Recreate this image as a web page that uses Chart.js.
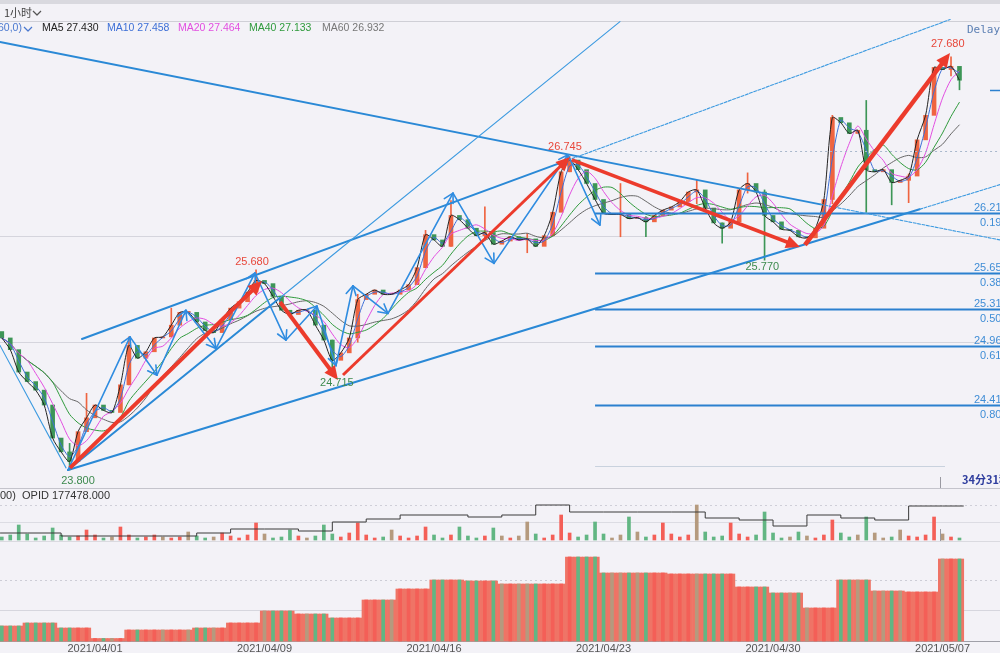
<!DOCTYPE html>
<html><head><meta charset="utf-8">
<script src="https://cdn.jsdelivr.net/npm/chart.js@4"></script>
<style>html,body{margin:0;padding:0;background:#f3f2f7;overflow:hidden}#wrap{width:1000px;height:653px;position:relative}canvas{display:block}</style>
</head><body><div id="wrap"><canvas id="c" width="1000" height="653"></canvas></div>
<script>
// ---------------- DATA ----------------
const dateTickIdx = [11, 31, 51, 71, 91, 111];
const dateLabels = ['2021/04/01', '2021/04/09', '2021/04/16', '2021/04/23', '2021/04/30', '2021/05/07'];

// hourly-ish closes (one every quarter trading day), index 0..113
const firstOpen = 25.10;
const closes = [
  25.04, 24.93, 24.72, 24.63, 24.55, 24.41, 24.10, 23.97, 23.88, 24.16,
  24.29, 24.41, 24.36, 24.34, 24.60, 24.97, 24.85, 24.91, 25.04, 25.05,
  25.16, 25.28, 25.28, 25.19, 25.11, 25.09, 25.21, 25.32, 25.38, 25.47,
  25.58, 25.55, 25.43, 25.30, 25.26, 25.30, 25.30, 25.16, 25.02, 24.83,
  24.90, 25.04, 25.40, 25.45, 25.49, 25.45, 25.45, 25.49, 25.54, 25.70,
  26.01, 25.96, 25.90, 26.19, 26.15, 26.07, 26.00, 26.03, 25.92, 25.95,
  25.99, 25.96, 25.97, 25.90, 26.00, 26.22, 26.60, 26.71, 26.62, 26.49,
  26.34, 26.21, 26.20, 26.20, 26.16, 26.17, 26.13, 26.19, 26.24, 26.27,
  26.32, 26.41, 26.43, 26.26, 26.12, 26.07, 26.13, 26.43, 26.49, 26.41,
  26.19, 26.13, 26.06, 26.05, 25.99, 25.98, 26.07, 26.34, 27.11, 27.06,
  26.96, 26.99, 26.62, 26.60, 26.62, 26.50, 26.52, 26.56, 26.90, 27.13,
  27.58, 27.56, 27.59, 27.46
];
// notable wicks
const spikeIdx = [8, 10, 15, 20, 30, 39, 42, 50, 53, 57, 62, 67, 73, 76, 82, 85, 88, 90, 98, 102, 105, 107, 112, 113];
const spikeLo  = [23.80, 24.20, 24.60, 25.05, 25.45, 24.715, 25.00, 25.70, 25.90, 25.98, 25.84, 26.60, 25.99, 25.99, 26.30, 25.93, 26.40, 25.77, 26.30, 26.22, 26.29, 26.31, 27.50, 27.37];
const spikeHi  = [24.05, 24.52, 25.05, 25.32, 25.68, 25.02, 25.45, 26.05, 26.33, 26.27, 26.02, 26.745, 26.49, 26.18, 26.52, 26.12, 26.59, 26.43, 27.13, 27.27, 26.56, 26.58, 27.68, 27.58];

// per trading day (starts every 4 points)
const dayStart = [-1, 3, 7, 11, 15, 19, 23, 27, 31, 35, 39, 43, 47, 51, 55, 59, 63, 67, 71, 75, 79, 83, 87, 91, 95, 99, 103, 107, 111];
const dayVolume = [15000, 18000, 13000, 2500, 11000, 11000, 13000, 18000, 30000, 27000, 23000, 41000, 52000, 61000, 60000, 57000, 57000, 84000, 68000, 68000, 67000, 67000, 54000, 48000, 33000, 61000, 50000, 49000, 82000];
const dayOpid = [163978, 163978, 163978, 162478, 162478, 162478, 162478, 163978, 165978, 165978, 164978, 169478, 170978, 172978, 172978, 171978, 172978, 177978, 174478, 174478, 174478, 174478, 171478, 170478, 167478, 172978, 171478, 170478, 177478];
// hourly volume (spiky panel)
const hourVol = [
  900, 1500, 4500, 1800, 600, 1200, 3600, 1500, 900, 1200,
  3000, 1500, 600, 900, 3900, 1500, 600, 900, 1500, 900,
  600, 900, 2400, 1200, 600, 900, 2100, 1200, 600, 1500,
  5100, 1800, 600, 900, 3000, 1200, 600, 1200, 4500, 1800,
  900, 2100, 5100, 1500, 600, 900, 3000, 1200, 600, 1200,
  3900, 1500, 600, 1500, 3900, 1200, 600, 1200, 3600, 1200,
  600, 1200, 5400, 1800, 600, 1500, 7500, 2100, 900, 1500,
  5400, 1800, 600, 1500, 6900, 2400, 900, 1500, 5100, 1800,
  900, 1500, 10500, 2400, 900, 1200, 5100, 1800, 900, 1500,
  8400, 2100, 600, 900, 2400, 1200, 600, 1500, 6000, 2100,
  900, 1500, 6900, 2100, 600, 900, 3000, 1200, 900, 1500,
  6900, 1800, 900, 600
];

// blue wave zigzag (swing points)
const zzIdx   = [7.81, 15.13, 18.31, 21.73, 25.27, 29.88, 33.53, 37.19, 39.43, 41.44, 45.57, 53.24, 58.08, 66.81, 70.58];
const zzPrice = [23.80, 25.05, 24.69, 25.30, 24.94, 25.65, 25.02, 25.34, 24.78, 25.53, 25.27, 26.40, 25.74, 26.76, 26.10];

// blue trend lines
const tlStartIdx   = [-0.21, 9.46, 7.81, 7.81, -0.21];
const tlStartPrice = [27.82, 25.03, 23.80, 23.80, 24.97];
const tlEndIdx     = [117.8, 111.9, 117.8, 72.94, 7.58];
const tlEndPrice   = [25.96, 28.03, 26.48, 28.01, 23.82];
const tlSplitIdx   = [96.6, 66.8, 108.3, 32.8, -99];

// red swing arrows
const raStartIdx   = [8.05, 32.83, 40.26, 67.28, 94.77];
const raStartPrice = [23.82, 25.377, 24.692, 26.711, 25.913];
const raEndIdx     = [30.7, 39.67, 67.05, 94.18, 111.88];
const raEndPrice   = [25.575, 24.645, 26.739, 25.894, 27.715];

// extreme labels
const exIdx   = [7.81, 30.23, 39.3, 66.8, 89.5, 111.5];
const exPrice = [23.80, 25.68, 24.715, 26.745, 25.77, 27.68];
const exText  = ['23.800', '25.680', '24.715', '26.745', '25.770', '27.680'];
const exIsHigh = [false, true, false, true, false, true];

// fibonacci retracement
const fibStartIdx = 70;
const fibPrices = [26.213, 25.653, 25.310, 24.966, 24.410];
const fibRatios = ['0.191', '0.382', '0.500', '0.618', '0.809'];
const fibTop = 26.80, fibBottom = 23.84;

// legend values
const maNames  = ['MA5', 'MA10', 'MA20', 'MA40', 'MA60'];
const maValues = ['27.430', '27.458', '27.464', '27.133', '26.932'];
const maPeriods = [1, 2, 4, 7, 10];   // in quarter-day points
const opidText = 'OPID 177478.000';
const lastPrice = 27.37;

// ---------------- STYLE ----------------
const maColors = ['#222222', '#3d6fd6', '#e24ee0', '#2f9a3c', '#666666'];
const upC = '#ef6440', dnC = '#3d9657';
const volBase = '#ef7466';
const volUp = '#f45f57', volDn = '#62b683', volFlat = '#b59a7e';

const opens = closes.map((c, i) => i === 0 ? firstOpen : closes[i - 1]);
function dirColor(i, u, d, f) {
  const diff = closes[i] - opens[i];
  if (f && Math.abs(diff) < 0.03) return f;
  return diff >= 0 ? u : d;
}
function sma(n) {
  return closes.map((c, i) => {
    const s = Math.max(0, i - n + 1);
    const seg = closes.slice(s, i + 1);
    return seg.reduce((a, b) => a + b, 0) / seg.length;
  });
}
const dayOf = i => Math.floor((i + 1) / 4);
const idxs = closes.map((c, i) => i);

const H = 653;
const pPerPx = 1 / 106.5;
const yMin = 23.8 - (H - 470) * pPerPx, yMax = 23.8 + 470 * pPerPx;

const datasets = [];
maPeriods.forEach((n, k) => {
  const m = sma(n);
  datasets.push({ type: 'line', yAxisID: 'y', order: k, data: m.map((v, i) => ({ x: i, y: v })),
    borderColor: maColors[k], borderWidth: 1, pointRadius: 0, tension: 0.25, fill: false });
});
datasets.push({ type: 'bar', yAxisID: 'y', order: 20, grouped: false, barThickness: 1,
  data: spikeIdx.map((x, k) => ({ x: x, y: [spikeLo[k], spikeHi[k]] })),
  backgroundColor: spikeIdx.map(i => dirColor(i, upC, dnC)) });
datasets.push({ type: 'bar', yAxisID: 'y', order: 21, grouped: false, barThickness: 4, minBarLength: 1,
  data: idxs.map(i => ({ x: i, y: [opens[i], closes[i]] })),
  backgroundColor: idxs.map(i => dirColor(i, upC, dnC)) });
datasets.push({ type: 'line', yAxisID: 'yo', order: 30, stepped: 'after',
  data: dayStart.map((d, k) => ({ x: Math.max(d, -0.2), y: dayOpid[k] })).concat([{ x: 113.5, y: dayOpid[dayOpid.length - 1] }]),
  borderColor: '#3a3a3a', borderWidth: 1, pointRadius: 0, fill: false });
datasets.push({ type: 'bar', yAxisID: 'yh', order: 31, grouped: false, barThickness: 3,
  data: idxs.map(i => ({ x: i, y: hourVol[i] })),
  backgroundColor: idxs.map(i => dirColor(i, volUp, volDn, volFlat)) });
// volume: coloured stripes over a salmon block
datasets.push({ type: 'bar', yAxisID: 'yv', order: 40, grouped: false, barThickness: 3,
  data: idxs.map(i => ({ x: i, y: dayVolume[dayOf(i)] })),
  backgroundColor: idxs.map(i => dirColor(i, volUp, volDn, volFlat)) });
datasets.push({ type: 'bar', yAxisID: 'yv', order: 41, grouped: false, barPercentage: 1, categoryPercentage: 1,
  data: idxs.map(i => ({ x: i, y: dayVolume[dayOf(i)] })),
  backgroundColor: volBase });

function arrowHead(ctx, x1, y1, x2, y2, len, half, filled) {
  const a = Math.atan2(y2 - y1, x2 - x1);
  const bx = x2 - len * Math.cos(a), by = y2 - len * Math.sin(a);
  const px = -Math.sin(a) * half, py = Math.cos(a) * half;
  ctx.beginPath(); ctx.moveTo(bx + px, by + py); ctx.lineTo(x2, y2); ctx.lineTo(bx - px, by - py);
  if (filled) { ctx.closePath(); ctx.fill(); } else ctx.stroke();
}
function hline(ctx, y, x1, x2, color, w, dash) {
  ctx.save(); ctx.strokeStyle = color; ctx.lineWidth = w; ctx.setLineDash(dash || []);
  ctx.beginPath(); ctx.moveTo(x1, y); ctx.lineTo(x2, y); ctx.stroke(); ctx.restore();
}
function chevron(ctx, x, y, color) {
  ctx.save(); ctx.strokeStyle = color; ctx.lineWidth = 1.2;
  ctx.beginPath(); ctx.moveTo(x, y - 2); ctx.lineTo(x + 4, y + 2); ctx.lineTo(x + 8, y - 2); ctx.stroke(); ctx.restore();
}

const decor = {
  id: 'decor',
  beforeDatasetsDraw(chart) {
    const ctx = chart.ctx, Y = p => chart.scales.y.getPixelForValue(p);
    const yo = chart.scales.yo, yv = chart.scales.yv, yh = chart.scales.yh;
    ctx.save(); ctx.fillStyle = '#d9d9df'; ctx.fillRect(0, 0, 1000, 4); ctx.restore();
    hline(ctx, 21.5, 0, 1000, '#cfcfd6', 1);
    hline(ctx, Math.round(Y(25)) + 0.5, 0, 1000, '#d5d5dd', 1);
    hline(ctx, Math.round(Y(26)) + 0.5, 0, 1000, '#d5d5dd', 1);
    hline(ctx, 488.5, 0, 1000, '#c4c4cc', 1);
    hline(ctx, 541.5, 0, 1000, '#dadae0', 1);
    hline(ctx, Math.round(yo.getPixelForValue(177978)) + 0.5, 0, 1000, '#cfcfd8', 1, [2, 3]);
    hline(ctx, Math.round(yh.getPixelForValue(5400)) + 0.5, 0, 1000, '#dcdce3', 1);
    hline(ctx, Math.round(yv.getPixelForValue(61000)) + 0.5, 0, 1000, '#cdcdd6', 1, [2, 3]);
    hline(ctx, Math.round(yv.getPixelForValue(31000)) + 0.5, 0, 1000, '#d6d6de', 1);
    hline(ctx, Math.round(yv.getPixelForValue(0)) + 0.5, 0, 1000, '#a0a0a8', 1);
  },
  afterDatasetsDraw(chart) {
    const ctx = chart.ctx, X = v => chart.scales.x.getPixelForValue(v), Y = p => chart.scales.y.getPixelForValue(p);
    const right = chart.chartArea.right;
    ctx.save();
    hline(ctx, Math.round(Y(fibTop)) + 0.5, X(fibStartIdx) - 10, right, '#a9b8cc', 1, [2, 3]);
    hline(ctx, Math.round(Y(fibBottom)) + 0.5, X(fibStartIdx), 945, '#c9d2de', 1);
    ctx.font = '11px "Liberation Sans", Arial, sans-serif';
    fibPrices.forEach((p, k) => {
      const y = Math.round(Y(p)) + 0.5;
      hline(ctx, y, X(fibStartIdx), right, '#2b80cf', 1.8);
      ctx.fillStyle = '#3f8dd6'; ctx.textBaseline = 'alphabetic'; ctx.textAlign = 'left';
      ctx.fillText(p.toFixed(3), 974, y - 3);
      ctx.fillText(fibRatios[k], 980, y + 12);
    });
    for (let k = 0; k < tlStartIdx.length; k++) {
      const x1 = X(tlStartIdx[k]), y1 = Y(tlStartPrice[k]), x2 = X(tlEndIdx[k]), y2 = Y(tlEndPrice[k]);
      const t = (tlSplitIdx[k] - tlStartIdx[k]) / (tlEndIdx[k] - tlStartIdx[k]);
      ctx.lineCap = 'round';
      if (t > 0) {
        const xs = x1 + (x2 - x1) * t, ys = y1 + (y2 - y1) * t;
        ctx.strokeStyle = '#2a89d6'; ctx.lineWidth = 2; ctx.setLineDash([]);
        ctx.beginPath(); ctx.moveTo(x1, y1); ctx.lineTo(xs, ys); ctx.stroke();
        ctx.strokeStyle = '#3c9ae0'; ctx.lineWidth = 1.1; ctx.setLineDash(k === 3 ? [] : [3, 1.5]);
        ctx.beginPath(); ctx.moveTo(xs, ys); ctx.lineTo(x2, y2); ctx.stroke();
      } else {
        ctx.strokeStyle = '#3c9ae0'; ctx.lineWidth = 1.1; ctx.setLineDash([]);
        ctx.beginPath(); ctx.moveTo(x1, y1); ctx.lineTo(x2, y2); ctx.stroke();
      }
    }
    ctx.setLineDash([]);
    ctx.strokeStyle = '#2f8ce0'; ctx.lineWidth = 1.6; ctx.lineJoin = 'round';
    for (let k = 1; k < zzIdx.length; k++) {
      const x1 = X(zzIdx[k - 1]), y1 = Y(zzPrice[k - 1]), x2 = X(zzIdx[k]), y2 = Y(zzPrice[k]);
      ctx.beginPath(); ctx.moveTo(x1, y1); ctx.lineTo(x2, y2); ctx.stroke();
      arrowHead(ctx, x1, y1, x2, y2, 9, 5, false);
    }
    ctx.fillStyle = '#ec3b2c'; ctx.strokeStyle = '#ec3b2c'; ctx.lineCap = 'butt';
    const raW = [4, 4, 3, 3.5, 4.5];
    for (let k = 0; k < raStartIdx.length; k++) {
      const x1 = X(raStartIdx[k]), y1 = Y(raStartPrice[k]), x2 = X(raEndIdx[k]), y2 = Y(raEndPrice[k]);
      const a = Math.atan2(y2 - y1, x2 - x1), L = 14;
      ctx.lineWidth = raW[k];
      ctx.beginPath(); ctx.moveTo(x1, y1); ctx.lineTo(x2 - L * 0.8 * Math.cos(a), y2 - L * 0.8 * Math.sin(a)); ctx.stroke();
      arrowHead(ctx, x1, y1, x2, y2, L, 6.5, true);
    }
    ctx.font = '11px "Liberation Sans", Arial, sans-serif'; ctx.textAlign = 'center'; ctx.textBaseline = 'middle';
    const offs = [[10, 11], [-6, -8], [2, 10], [-3, -9], [2, 7], [1, -13]];
    exIdx.forEach((x, k) => {
      ctx.fillStyle = exIsHigh[k] ? '#e8473a' : '#3d8a4e';
      ctx.fillText(exText[k], X(x) + offs[k][0], Y(exPrice[k]) + offs[k][1]);
    });
    hline(ctx, Math.round(Y(lastPrice)) + 0.5, 990, 1000, '#2b80cf', 1.5);
    ctx.textAlign = 'left'; ctx.textBaseline = 'middle';
    ctx.font = '11px "Noto Sans CJK SC", sans-serif'; ctx.fillStyle = '#444';
    ctx.fillText('1小时', 4, 13);
    chevron(ctx, 33, 13, '#555');
    ctx.font = '10.5px "Liberation Sans", Arial, sans-serif';
    ctx.fillStyle = '#4a78cf'; ctx.fillText('60,0)', -2, 28);
    chevron(ctx, 24, 29, '#4a78cf');
    const lx = [42, 107, 178, 249, 322];
    maNames.forEach((n, k) => {
      ctx.fillStyle = k === 0 ? '#222' : (k === 4 ? '#777' : maColors[k]);
      ctx.fillText(n + ' ' + maValues[k], lx[k], 28);
    });
    ctx.font = '11px "DejaVu Sans Mono", monospace'; ctx.fillStyle = '#5b7fb3';
    ctx.fillText('Delay', 967, 30);
    ctx.font = 'bold 11px "Noto Sans CJK SC", sans-serif'; ctx.fillStyle = '#2e3d9e';
    ctx.fillText('34分31秒', 962, 480);
    ctx.strokeStyle = '#9a9aa2'; ctx.lineWidth = 1;
    ctx.beginPath(); ctx.moveTo(940.5, 477); ctx.lineTo(940.5, 488); ctx.moveTo(940.5, 529); ctx.lineTo(940.5, 541); ctx.stroke();
    ctx.font = '11px "Liberation Sans", Arial, sans-serif'; ctx.fillStyle = '#333';
    ctx.fillText('00)', 0, 496);
    ctx.fillText(opidText, 22, 496);
    ctx.textAlign = 'center'; ctx.textBaseline = 'top'; ctx.fillStyle = '#555';
    dateTickIdx.forEach((v, k) => ctx.fillText(dateLabels[k], X(v), 643));
    ctx.restore();
  }
};

new Chart(document.getElementById('c'), {
  type: 'bar',
  data: { datasets },
  options: {
    animation: false, responsive: false, maintainAspectRatio: false,
    layout: { padding: 0 },
    plugins: { legend: { display: false }, tooltip: { enabled: false } },
    scales: {
      x: { type: 'linear', min: -0.21, max: 117.78, display: false, offset: false },
      y: { display: false, min: yMin, max: yMax },
      yo: { display: false, min: 177478 - (H - 506) * 500, max: 177478 + 506 * 500 },
      yh: { display: false, min: -(H - 540) * 300, max: 540 * 300 },
      yv: { display: false, min: -(H - 641) * 1000, max: 641 * 1000 }
    }
  },
  plugins: [decor]
});
</script>
</body></html>
